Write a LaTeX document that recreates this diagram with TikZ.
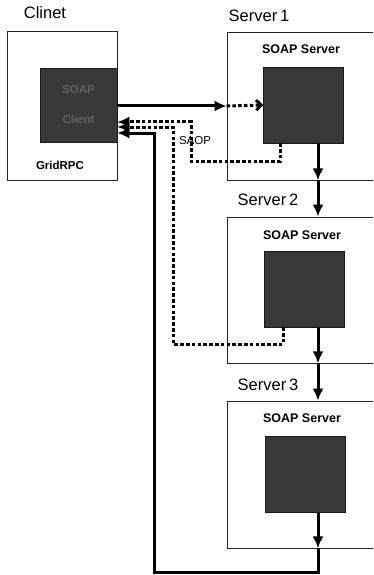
\documentclass[tikz,border=0pt]{standalone}
\usepackage{fontspec}
\setmainfont{Liberation Sans}
\usetikzlibrary{arrows.meta,positioning,calc}

\begin{document}
\begin{tikzpicture}[
  x=1pt, y=-1pt,
  hostbox/.style={rectangle, draw=black!85, line width=0.8pt, inner sep=0pt},
  corebox/.style={rectangle, fill=black!78, draw=black!90, line width=0.5pt, minimum width=80pt, minimum height=76pt, inner sep=0pt},
  hostlabel/.style={font=\fontsize{16.5}{18}\selectfont},
  soaplabel/.style={font=\fontsize{12.5}{14}\selectfont\bfseries},
  call/.style={line width=3pt, -{Latex[length=12pt,width=11pt]}},
  reply/.style={line width=3pt, dash pattern=on 3.5pt off 2.3pt, -{Latex[length=12pt,width=11pt]}},
  hop/.style={line width=3pt, dash pattern=on 3.5pt off 2.3pt, -{Straight Barb[length=5pt,width=10pt]}}
]
\clip (0,0) rectangle (373,575);

% client side
\node[hostlabel] (clabel) at (45,13) {Clinet};
\node[hostbox, minimum width=110pt, minimum height=149pt] (cbox) at (62,105.5) {};
\node[corebox, minimum width=77pt, minimum height=74pt, text=black!62, font=\fontsize{11.5}{30}\selectfont\bfseries, align=center] (ccore) at (78.5,105) {SOAP\\Client};
\node[font=\fontsize{11.5}{13}\selectfont\bfseries] (grid) at (60,165) {GridRPC};

% server side
\node[hostlabel] (s1label) at (259,16) {Server\,1};
\node[hostbox, minimum width=163pt, minimum height=148pt] (s1box) at (308.5,106) {};
\node[soaplabel] (s1soap) at (301,49) {SOAP Server};
\node[corebox] (s1core) at (303.5,105) {};

\node[hostlabel] (s2label) at (268,200) {Server\,2};
\node[hostbox, minimum width=163pt, minimum height=146pt] (s2box) at (308.5,290) {};
\node[soaplabel] (s2soap) at (302,235) {SOAP Server};
\node[corebox] (s2core) at (304.5,289) {};

\node[hostlabel] (s3label) at (268,385) {Server\,3};
\node[hostbox, minimum width=163pt, minimum height=147pt] (s3box) at (308.5,474.5) {};
\node[soaplabel] (s3soap) at (302,418) {SOAP Server};
\node[corebox] (s3core) at (305,474.5) {};

\node[font=\fontsize{11.5}{13}\selectfont] (saop) at (195,141) {SAOP};

% points for the connectors
\coordinate (s1out) at (s1core.south -| 318,0);
\coordinate (s1rim) at (s1box.south -| 318,0);
\coordinate (s2out) at (s2core.south -| 318,0);
\coordinate (s2rim) at (s2box.south -| 318,0);
\coordinate (s3out) at (s3core.south -| 318,0);
\coordinate (s3rim) at (s3box.south -| 318,0);
\coordinate (loop) at (154,572);

% request
\draw[call] ($(ccore.east)+(0,1)$) -- (s1box.west);
\draw[hop] (s1box.west) -- (s1core.west);

% chain of calls
\draw[call] (s1out) -- (s1rim);
\draw[call] (s1rim) -- (s2box.north -| s1rim);
\draw[call] (s2out) -- (s2rim);
\draw[call] (s2rim) -- (s3box.north -| s2rim);
\draw[call] (s3out) -- (s3rim);
\draw[call] (s3rim) |- (loop) |- ($(ccore.east)+(0,28)$);

% replies
\draw[reply] (s1core.south -| 280,0) |- (191,161) |- ($(ccore.east)+(0,17)$);
\draw[reply] (s2core.south -| 283,0) |- (173,344) |- ($(ccore.east)+(0,22)$);

\end{tikzpicture}
\end{document}
